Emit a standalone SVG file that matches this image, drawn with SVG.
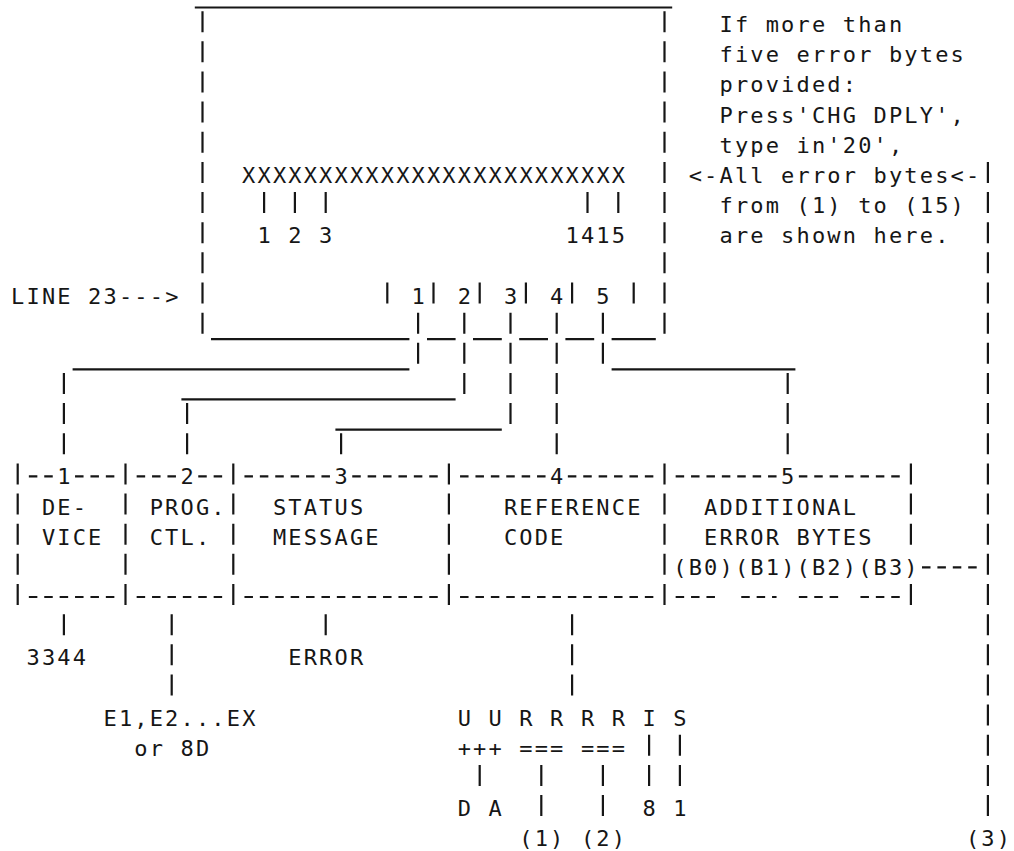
<svg xmlns="http://www.w3.org/2000/svg" width="1014" height="851" viewBox="0 0 1014 851">
<style>
text{font-family:"DejaVu Sans Mono","Liberation Mono",monospace;font-size:22px;letter-spacing:2.16px;fill:#161616}
.s{stroke:#161616;stroke-width:2.2;fill:none}
.bar{stroke:#161616;stroke-width:2.2;fill:none;stroke-dasharray:21 9.15}
.dash{stroke:#161616;stroke-width:2.2;fill:none;stroke-dasharray:8.5 6.9}
</style>
<rect width="1014" height="851" fill="#fff"/>
<g id="screen">
<path class="s" d="M194.8 7.5H672.2"/>
<path class="bar" d="M202.5 11.15V333.65M664.5 11.15V333.65"/>
<text x="242.1" y="182.9">XXXXXXXXXXXXXXXXXXXXXXXXX</text>
<path class="s" d="M264.1 192.05V213.05M294.9 192.05V213.05M325.7 192.05V213.05M587.5 192.05V213.05M618.3 192.05V213.05"/>
<text x="257.5" y="243.2">1 2 3</text>
<text x="565.5" y="243.2">1415</text>
<path class="s" d="M387.3 282.5V303.5M433.5 282.5V303.5M479.7 282.5V303.5M525.9 282.5V303.5M572.1 282.5V303.5M633.7 282.5V303.5"/>
<text x="411.5" y="303.5">1</text>
<text x="457.7" y="303.5">2</text>
<text x="503.9" y="303.5">3</text>
<text x="550.1" y="303.5">4</text>
<text x="596.3" y="303.5">5</text>
<path class="s" d="M211 339.15H409.4M427 339.15H455.6M473 339.15H501.8M519.2 339.15H548M565.4 339.15H594.2M611.6 339.15H655.8"/>
</g>
<g id="line23-label">
<text x="11.1" y="303.5">LINE 23---&gt;</text>
</g>
<g id="note">
<text x="719.5" y="32.15">If more than</text>
<text x="719.5" y="62.3">five error bytes</text>
<text x="719.5" y="92.45">provided:</text>
<text x="719.5" y="122.6">Press'CHG DPLY',</text>
<text x="719.5" y="152.75">type in'20',</text>
<text x="688.7" y="182.9">&lt;-All error bytes&lt;-</text>
<text x="719.5" y="213.05">from (1) to (15)</text>
<text x="719.5" y="243.2">are shown here.</text>
</g>
<g id="table">
<path class="bar" d="M17.7 463.4V605M125.5 463.4V605M233.3 463.4V605M448.9 463.4V605M664.5 463.4V605M910.9 463.4V544.7M910.9 584V605"/>
<path class="dash" d="M28.85 476.4H52.75M75.05 476.4H114.35M136.65 476.4H175.95M198.25 476.4H222.15M244.45 476.4H329.95M352.25 476.4H437.75M460.05 476.4H545.55M567.85 476.4H653.35M675.65 476.4H776.55M798.85 476.4H899.75"/>
<path class="dash" d="M28.85 597H114.35M136.65 597H222.15M244.45 597H437.75M460.05 597H653.35M675.65 597H714.95M741.25 597H776.55M798.85 597H838.15M860.45 597H899.75"/>
<g id="cell-1">
<text x="57.3" y="484.4">1</text>
<text x="41.9" y="514.55">DE-</text>
<text x="41.9" y="544.7">VICE</text>
</g>
<g id="cell-2">
<text x="180.5" y="484.4">2</text>
<text x="149.7" y="514.55">PROG.</text>
<text x="149.7" y="544.7">CTL.</text>
</g>
<g id="cell-3">
<text x="334.5" y="484.4">3</text>
<text x="272.9" y="514.55">STATUS</text>
<text x="272.9" y="544.7">MESSAGE</text>
</g>
<g id="cell-4">
<text x="550.1" y="484.4">4</text>
<text x="503.9" y="514.55">REFERENCE</text>
<text x="503.9" y="544.7">CODE</text>
</g>
<g id="cell-5">
<text x="781.1" y="484.4">5</text>
<text x="704.1" y="514.55">ADDITIONAL</text>
<text x="704.1" y="544.7">ERROR BYTES</text>
<text x="673.3" y="574.85">(B0)(B1)(B2)(B3)</text>
</g>
</g>
<g id="device-value"><text x="26.5" y="665.3">3344</text></g>
<g id="status-value"><text x="288.3" y="665.3">ERROR</text></g>
<g id="progctl-value">
<text x="103.5" y="725.6">E1,E2...EX</text>
<text x="134.3" y="755.75">or 8D</text>
</g>
<g id="refcode-value">
<text x="457.7" y="725.6">U U R R R R I S</text>
<text x="457.7" y="755.75">+++ === ===</text>
<text x="457.7" y="816.05">D A</text>
<text x="642.5" y="816.05">8</text>
<text x="673.3" y="816.05">1</text>
<text x="519.3" y="846.2">(1)</text>
<text x="580.9" y="846.2">(2)</text>
</g>
<g id="extra-bytes-label"><text x="965.9" y="846.2">(3)</text></g>
<g id="connectors">
<path class="bar" d="M418.1 312.65V363.8M464.3 312.65V393.95M510.5 312.65V424.1M556.7 312.65V454.25M602.9 312.65V363.8M63.9 372.95V454.25M187.1 403.1V454.25M341.1 433.25V454.25M787.7 372.95V454.25"/>
<path class="s" d="M72.6 369.3H409.4M611.6 369.3H795.4M181.4 399.45H455.6M335.4 429.6H501.8"/>
<path class="bar" d="M63.9 614.15V635.15M171.7 614.15V695.45M325.7 614.15V635.15M572.1 614.15V695.45M987.9 161.9V816.05"/>
<path class="dash" d="M922 567.35H976.8"/>
<path class="bar" d="M649.1 734.75V785.9M679.9 734.75V785.9M479.7 764.9V785.9M541.3 764.9V816.05M602.9 764.9V816.05"/>
</g>
</svg>
